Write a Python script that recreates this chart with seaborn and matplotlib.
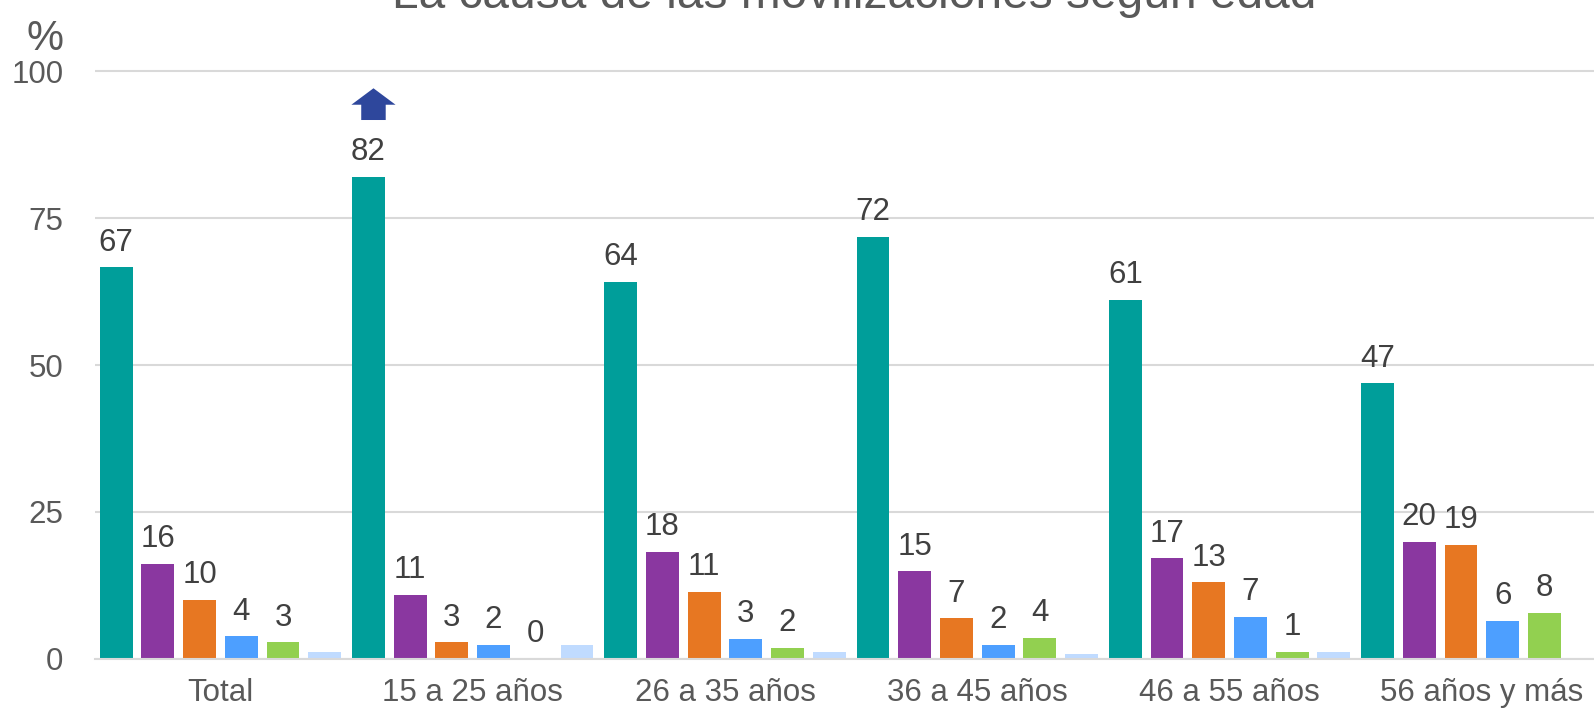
import numpy as np
import pandas as pd
import matplotlib
matplotlib.use("Agg")
import matplotlib.pyplot as plt
import seaborn as sns
from matplotlib.patches import FancyArrow

categories = ["Total", "15 a 25 años", "26 a 35 años", "36 a 45 años",
              "46 a 55 años", "56 años y más"]
series = ["Causa 1", "Causa 2", "Causa 3", "Causa 4", "Causa 5", "Causa 6"]
s1 = [66.6, 82.0, 64.2, 71.8, 61.1, 46.9]
s2 = [16.1, 10.9, 18.2, 14.9, 17.1, 19.9]
s3 = [10.0, 2.8, 11.4, 6.9, 13.0, 19.4]
s4 = [3.8, 2.4, 3.4, 2.4, 7.1, 6.4]
s5 = [2.8, 0.0, 1.9, 3.6, 1.2, 7.8]
s6 = [1.1, 2.3, 1.1, 0.9, 1.1, 0.0]
colors = ["#009E9A", "#8A37A0", "#E77722", "#4D9FFF", "#92D050", "#C0DBFF"]
yticks = [0, 25, 50, 75, 100]
title = "La causa de las movilizaciones según edad"

all_series = [s1, s2, s3, s4, s5, s6]
df = pd.DataFrame({
    "grupo": [c for s in all_series for c in categories],
    "serie": [series[i] for i, s in enumerate(all_series) for _ in s],
    "valor": [v for s in all_series for v in s],
})

sns.set_theme(style="white")
plt.rcParams["font.family"] = ["Liberation Sans", "DejaVu Sans"]

fig = plt.figure(figsize=(15.94, 7.10), dpi=100)
ax = fig.add_axes([0.0593, 0.0721, 1 - 0.0593, 0.9038 - 0.0721])

sns.barplot(data=df, x="grupo", y="valor", hue="serie", order=categories,
            hue_order=series, palette=colors, width=0.992, gap=0.21,
            errorbar=None, legend=False, linewidth=0, saturation=1, ax=ax)

label_color = "#404040"
for j, cont in enumerate(ax.containers[:5]):
    ax.bar_label(cont, labels=[f"{v:.0f}" for v in all_series[j]], padding=7,
                 fontsize=22.5, color=label_color)

ax.set_xlim(-0.499, 5.4445)
ax.set_ylim(0, 100.5)
ax.set_yticks(yticks)
ax.set_xlabel("")
ax.set_ylabel("")
ax.grid(axis="y", color="#D9D9D9", linewidth=1.5)
ax.grid(axis="x", visible=False)
ax.set_axisbelow(True)
for sp in ["left", "right", "top"]:
    ax.spines[sp].set_visible(False)
ax.spines["bottom"].set_color("#D9D9D9")
ax.spines["bottom"].set_linewidth(1.5)
ax.tick_params(axis="y", length=0, pad=22.5, labelsize=22.5, labelcolor="#595959")
ax.tick_params(axis="x", length=0, pad=14, labelsize=22.5, labelcolor="#595959")

# arrow above the 15-25 teal bar
bar = ax.containers[0][1]
xc = bar.get_x() + bar.get_width() / 2 + 0.02
ax.add_patch(FancyArrow(xc, 91.7, 0, 5.4, width=0.097, head_width=0.175,
                        head_length=2.8, length_includes_head=True,
                        color="#2E479C", linewidth=0, clip_on=False))

fig.text(854 / 1594, 1 - 8 / 710, title, ha="center", va="baseline",
         fontsize=34.5, color="#595959")
fig.text(44.7 / 1594, 1 - 50 / 710, "%", ha="center", va="baseline",
         fontsize=30, color="#595959")

fig.savefig("out.png", dpi=100)
